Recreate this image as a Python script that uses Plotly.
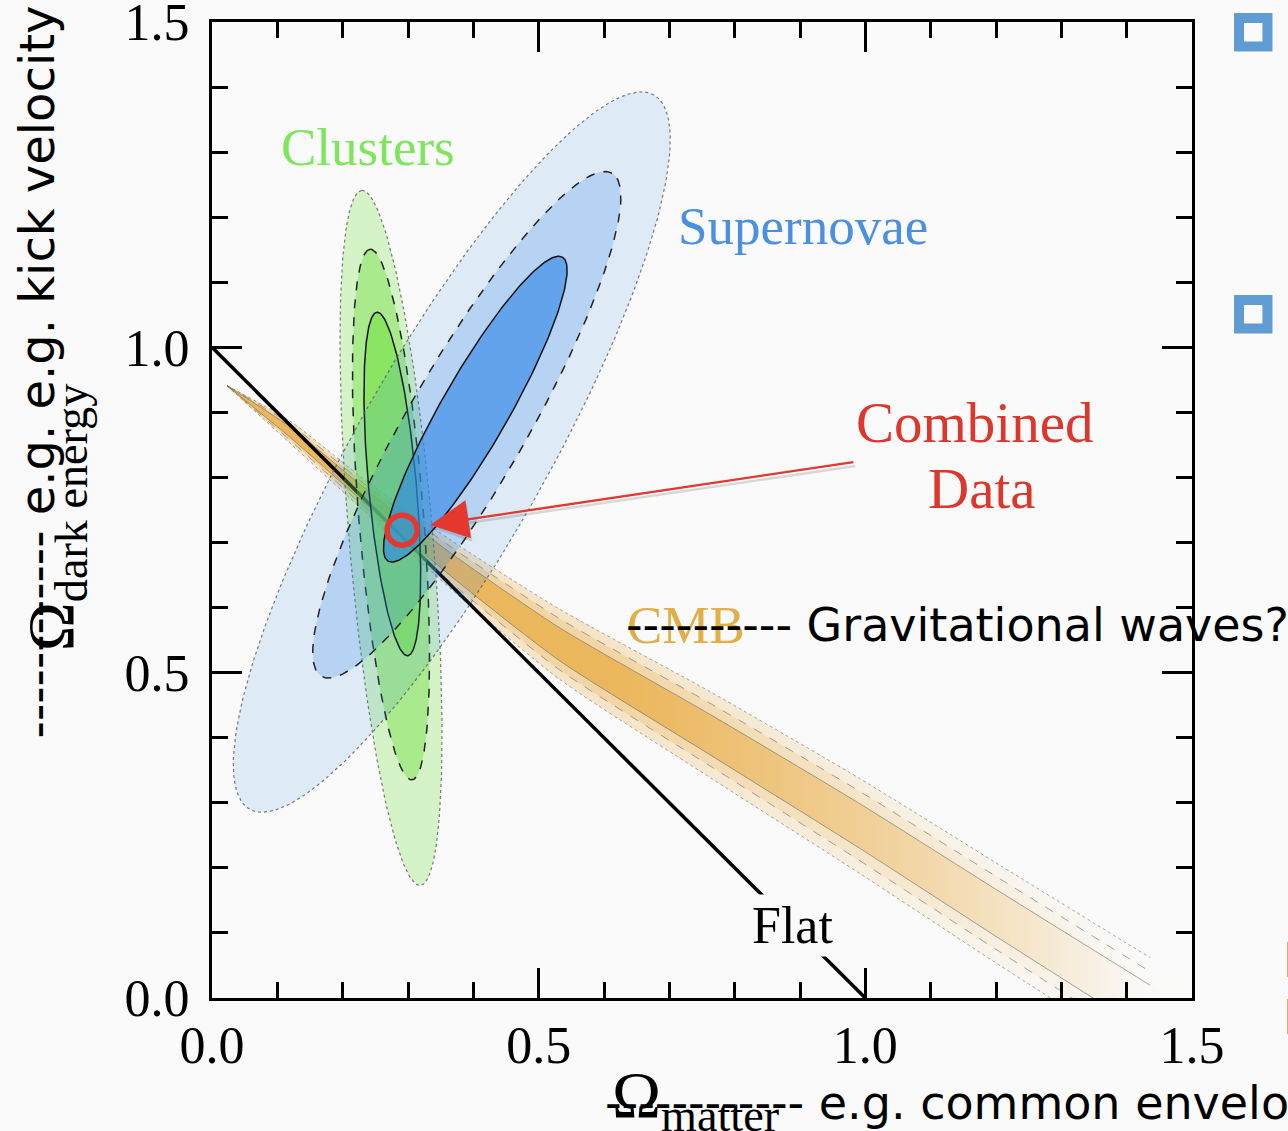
import numpy as np
import plotly.graph_objects as go

# ---- axis ticks ----
tick_vals = [0.0, 0.5, 1.0, 1.5]
tick_text = ["0.0", "0.5", "1.0", "1.5"]

# ---- Supernovae confidence contours (outer -> inner) ----
sn_cx = [0.367, 0.390, 0.403]
sn_cy = [0.839, 0.881, 0.905]
sn_a = [0.630, 0.446, 0.269]
sn_b = [0.146, 0.0906, 0.0514]
sn_ang = [60.6, 60.1, 60.3]

# ---- Cluster confidence contours (outer -> inner) ----
cl_cx = [0.274, 0.274, 0.276]
cl_cy = [0.707, 0.743, 0.790]
cl_a = [0.536, 0.409, 0.265]
cl_b = [0.0642, 0.0497, 0.0366]
cl_ang = [94.8, 94.5, 95.1]

# ---- CMB degeneracy band: centre line and half-width along Omega_m ----
cmb_x = [0.023, 0.119, 0.242, 0.380, 0.533, 0.762, 0.992, 1.206, 1.436, 1.665]
cmb_mid = [0.941, 0.870, 0.765, 0.655, 0.543, 0.405, 0.264, 0.127, -0.018, -0.160]
cmb_hw = [0.0, 0.0170, 0.025, 0.0390, 0.0540, 0.0660, 0.0730, 0.0770, 0.0800, 0.083]
cmb_levels = [1.0, 0.73, 0.47]
cmb_line_end = 1.44   # contour lines stop where the band has faded out

# ---- flat universe line ----
flat_x = [0.0, 1.0]
flat_y = [1.0, 0.0]

# ---- combined best fit ----
combined_x = [0.291]
combined_y = [0.719]
arrow_tail = (0.984, 0.824)

BG = "#fafafa"
SERIF = "Liberation Serif"
SANS = "DejaVu Sans"


def ellipse(cx, cy, a, b, ang, n=240):
    t = np.linspace(0, 2 * np.pi, n)
    th = np.deg2rad(ang)
    x = cx + a * np.cos(t) * np.cos(th) - b * np.sin(t) * np.sin(th)
    y = cy + a * np.cos(t) * np.sin(th) + b * np.sin(t) * np.cos(th)
    return x, y


def rgba(c, a):
    return f"rgba({c[0]},{c[1]},{c[2]},{a:.3f})"


fig = go.Figure()

# CMB band, nested levels with a fade towards high Omega_m
orange = (230, 160, 40)
cmb_alpha = [0.24, 0.22, 0.58]
cmb_dash = ["dot", "dash", "solid"]
xs = np.array(cmb_x)
mid = np.array(cmb_mid)
hw = np.array(cmb_hw)
keep = xs <= cmb_line_end
for k, al, dash in zip(cmb_levels, cmb_alpha, cmb_dash):
    up = mid + k * hw
    lo = mid - k * hw
    px = np.concatenate([xs, xs[::-1]])
    py = np.concatenate([up, lo[::-1]])
    fig.add_trace(go.Scatter(
        x=px, y=py, mode="lines", fill="toself",
        line=dict(width=0, shape="spline", smoothing=0.6),
        fillcolor=rgba(orange, al),
        fillgradient=dict(type="horizontal", start=0.62, stop=1.42,
                          colorscale=[[0, rgba(orange, al)],
                                      [1, rgba(orange, al * 0.02)]]),
        hoverinfo="skip", showlegend=False))
    for edge in (up, lo):
        fig.add_trace(go.Scatter(
            x=xs[keep], y=edge[keep], mode="lines",
            line=dict(color="rgba(95,95,95,0.55)", width=1, dash=dash,
                      shape="spline", smoothing=0.6),
            hoverinfo="skip", showlegend=False))

# flat line
fig.add_trace(go.Scatter(x=flat_x, y=flat_y, mode="lines",
                         line=dict(color="black", width=3.5),
                         hoverinfo="skip", showlegend=False))

edge_styles = [dict(color="rgba(90,90,90,0.8)", width=1.2, dash="dot"),
               dict(color="#222", width=1.5, dash="dash"),
               dict(color="#111", width=1.5, dash="solid")]

# clusters
green = (110, 225, 60)
green_alpha = [0.27, 0.42, 0.525]
for i in range(3):
    ex, ey = ellipse(cl_cx[i], cl_cy[i], cl_a[i], cl_b[i], cl_ang[i])
    fig.add_trace(go.Scatter(x=ex, y=ey, mode="lines", fill="toself",
                             fillcolor=rgba(green, green_alpha[i]),
                             line=edge_styles[i], hoverinfo="skip",
                             showlegend=False))

# supernovae
blue = (46, 134, 230)
blue_alpha = [0.13, 0.23, 0.62]
for i in range(3):
    ex, ey = ellipse(sn_cx[i], sn_cy[i], sn_a[i], sn_b[i], sn_ang[i])
    fig.add_trace(go.Scatter(x=ex, y=ey, mode="lines", fill="toself",
                             fillcolor=rgba(blue, blue_alpha[i]),
                             line=edge_styles[i], hoverinfo="skip",
                             showlegend=False))

# combined result marker
fig.add_trace(go.Scatter(x=combined_x, y=combined_y, mode="markers",
                         marker=dict(symbol="circle-open", size=30,
                                     color="#e4372d", line=dict(width=5.5, color="#e4372d")),
                         hoverinfo="skip", showlegend=False))

annotations = []


def label(text, x, y, color, size, font=SERIF, **kw):
    d = dict(text=text, x=x, y=y, xref="x", yref="y", showarrow=False,
             font=dict(family=font, size=size, color=color))
    d.update(kw)
    annotations.append(d)


label("Clusters", 0.2388, 1.3078, "#7de65d", 53)
label("Supernovae", 0.9046, 1.1864, "#4a8fe0", 53)
label("Combined", 1.168, 0.8852, "#dc372d", 57)
label("Data", 1.1786, 0.7838, "#dc372d", 57)
label("CMB", 0.7255, 0.5732, "#e2ae48", 53)
label("Flat", 0.889, 0.1122, "black", 52, bgcolor=BG, borderpad=2)

# arrow towards the combined result (soft shadow underneath)
annotations.append(dict(x=0.336, y=0.722, ax=arrow_tail[0] + 0.003, ay=arrow_tail[1] - 0.006,
                        xref="x", yref="y", axref="x", ayref="y", text="",
                        showarrow=True, arrowhead=2, arrowsize=3.2,
                        arrowwidth=2.4, arrowcolor="rgba(60,60,60,0.18)"))
annotations.append(dict(x=0.334, y=0.727, ax=arrow_tail[0], ay=arrow_tail[1],
                        xref="x", yref="y", axref="x", ayref="y", text="",
                        showarrow=True, arrowhead=2, arrowsize=3.2,
                        arrowwidth=2.4, arrowcolor="#e4372d"))


def paper_text(text, x, y, size, font, color="black", **kw):
    d = dict(text=text, x=x, y=y, xref="paper", yref="paper", showarrow=False,
             font=dict(family=font, size=size, color=color))
    d.update(kw)
    annotations.append(d)


# axis titles
paper_text("Ω<sub>matter</sub>", 0.4930, -0.1045, 66, SERIF,
           xanchor="center", yanchor="middle")
paper_text("Ω<sub>dark energy</sub>", -0.160, 0.4928, 66, SERIF,
           xanchor="center", yanchor="middle", textangle=-90)

# slide notes written over the chart
paper_text("------------ e.g. common envelope", 0.399, -0.1080, 46, SANS,
           xanchor="left", yanchor="middle")
paper_text("------------ e.g. e.g. kick velocity", -0.1786, 0.642, 48, SANS,
           xanchor="center", yanchor="middle", textangle=-90)
paper_text("---------- Gravitational waves?", 0.4204, 0.3822, 46, SANS,
           xanchor="left", yanchor="middle")
paper_text("I", 1.0909, 0.0389, 48, SANS, xanchor="left", yanchor="middle")
paper_text("I", 1.0909, -0.0195, 48, SANS, xanchor="left", yanchor="middle")

bullet = dict(type="rect", xref="paper", yref="paper",
              line=dict(color="#609cd4", width=10), fillcolor="rgba(0,0,0,0)")
shapes = [dict(bullet, x0=1.0480, x1=1.0770, y0=0.9749, y1=1.0041),
          dict(bullet, x0=1.0480, x1=1.0770, y0=0.6860, y1=0.7152)]

axis_common = dict(
    range=[0, 1.5], tickvals=tick_vals, ticktext=tick_text,
    ticks="inside", ticklen=30, tickwidth=2.5, tickcolor="black",
    showline=True, linewidth=3, linecolor="black", mirror="allticks",
    showgrid=False, zeroline=False, automargin=False,
    minor=dict(dtick=0.1, tick0=0, ticks="inside", ticklen=16,
               tickwidth=2.5, tickcolor="black", showgrid=False),
    tickfont=dict(family=SERIF, size=52, color="black"),
    ticklabeloverflow="allow",
)

fig.update_layout(
    width=1288, height=1131,
    margin=dict(l=212, r=96, t=22, b=133, pad=0, autoexpand=False),
    paper_bgcolor=BG, plot_bgcolor=BG,
    xaxis=dict(axis_common, ticklabelstandoff=0),
    yaxis=dict(axis_common, ticklabelstandoff=9),
    annotations=annotations, shapes=shapes,
    showlegend=False,
)

fig.write_html("out.html")
